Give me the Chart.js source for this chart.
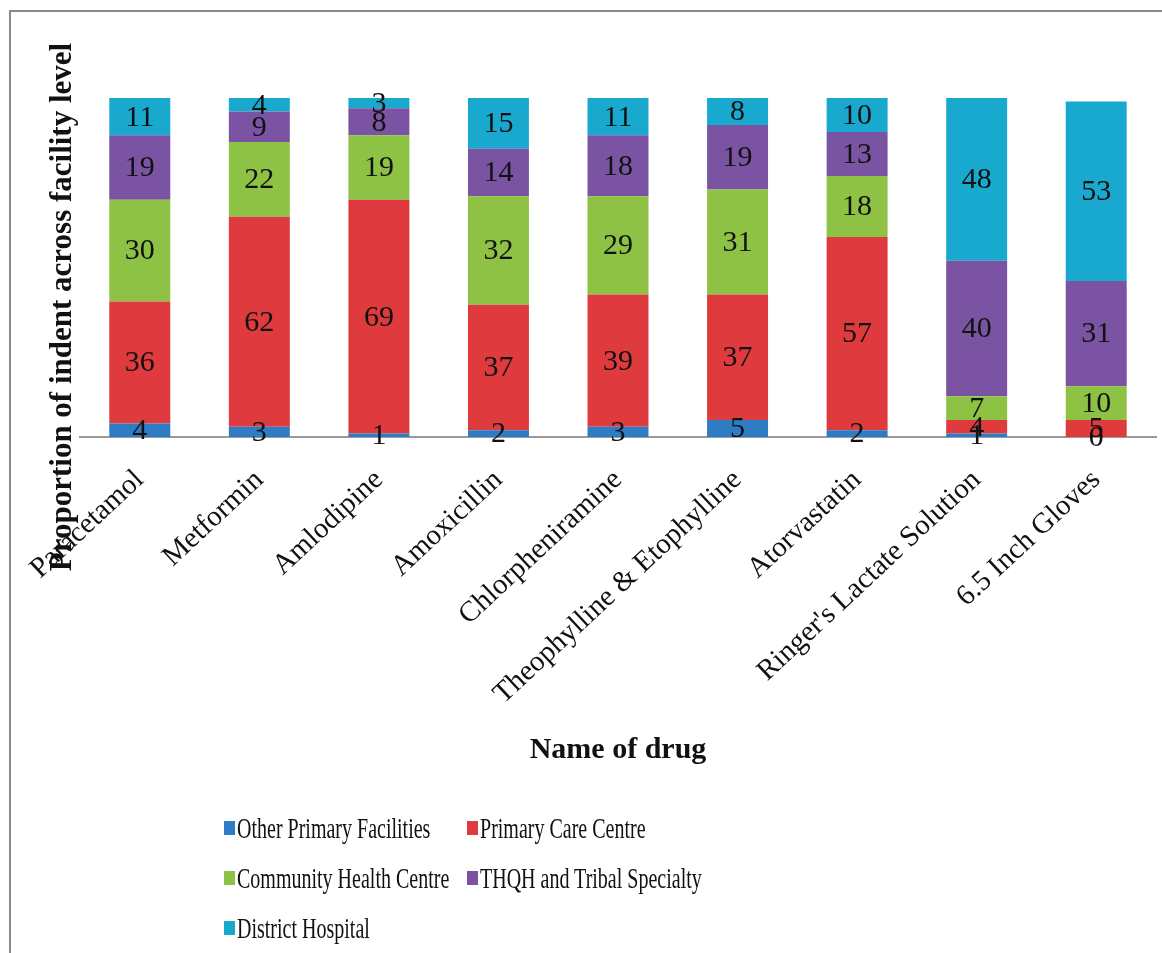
<!DOCTYPE html>
<html>
<head>
<meta charset="utf-8">
<title>Proportion of indent across facility level</title>
<script src="https://cdn.jsdelivr.net/npm/chart.js@4/dist/chart.umd.min.js"></script>
<style>
  html, body { margin: 0; padding: 0; background: #fff; }
  #wrap { position: relative; width: 1162px; height: 953px; overflow: hidden; }
  #frame { position: absolute; left: 9px; top: 10px; width: 1200px; height: 1000px;
           border-left: 2px solid #8a8a8a; border-top: 2px solid #8a8a8a; }
  #chart { position: absolute; left: 0; top: 0; }
  .lg { position: absolute; height: 34px; line-height: 34px; white-space: nowrap;
        font-family: "Liberation Serif", "Times New Roman", serif; font-size: 29px; color: #111; }
  .lg i { position: absolute; left: 0; top: 10px; width: 11px; height: 14px; }
  .lg span { position: absolute; left: 13px; top: 0; display: inline-block;
             transform: scaleX(0.69); transform-origin: left center; }
</style>
</head>
<body>
<div id="wrap">
  <div id="frame"></div>
  <canvas id="chart" width="1162" height="953"></canvas>
  <div id="legend"></div>
</div>
<script>
const drugs = ['Paracetamol', 'Metformin', 'Amlodipine', 'Amoxicillin', 'Chlorpheniramine',
  'Theophylline & Etophylline', 'Atorvastatin', "Ringer's Lactate Solution", '6.5 Inch Gloves'];

const otherPrimary     = [4, 3, 1, 2, 3, 5, 2, 1, 0];
const primaryCare      = [36, 62, 69, 37, 39, 37, 57, 4, 5];
const communityHealth  = [30, 22, 19, 32, 29, 31, 18, 7, 10];
const thqhTribal       = [19, 9, 8, 14, 18, 19, 13, 40, 31];
const districtHospital = [11, 4, 3, 15, 11, 8, 10, 48, 53];

const seriesNames = ['Other Primary Facilities', 'Primary Care Centre', 'Community Health Centre',
  'THQH and Tribal Specialty', 'District Hospital'];
const seriesColors = ['#2E7CC4', '#DF3B3E', '#8DC244', '#7A54A3', '#19A9CF'];
const seriesData = [otherPrimary, primaryCare, communityHealth, thqhTribal, districtHospital];

const SERIF = '"Liberation Serif", "Times New Roman", serif';

// numbers in the middle of every segment, plus the two axis titles
const segmentLabels = {
  id: 'segmentLabels',
  afterDatasetsDraw(chart) {
    const ctx = chart.ctx;
    ctx.save();
    ctx.font = '30px ' + SERIF;
    ctx.fillStyle = '#111';
    ctx.textAlign = 'center';
    ctx.textBaseline = 'middle';
    chart.data.datasets.forEach((ds, i) => {
      chart.getDatasetMeta(i).data.forEach((bar, j) => {
        ctx.fillText(String(ds.data[j]), bar.x, (bar.y + bar.base) / 2 + 1);
      });
    });
    ctx.restore();
  },
  afterDraw(chart) {
    const ctx = chart.ctx;
    ctx.save();
    ctx.fillStyle = '#111';
    ctx.font = 'bold 30px ' + SERIF;
    ctx.textAlign = 'center';
    ctx.textBaseline = 'middle';
    ctx.fillText('Name of drug', (chart.chartArea.left + chart.chartArea.right) / 2, 750);
    ctx.font = 'bold 31px ' + SERIF;
    ctx.translate(63, 307);
    ctx.rotate(-Math.PI / 2);
    ctx.fillText('Proportion of indent across facility level', 0, 0);
    ctx.restore();
  }
};

const chart = new Chart(document.getElementById('chart'), {
  type: 'bar',
  data: {
    labels: drugs,
    datasets: seriesData.map((d, i) => ({
      label: seriesNames[i],
      data: d,
      backgroundColor: seriesColors[i],
      borderWidth: 0,
      categoryPercentage: 1,
      barPercentage: 0.51
    }))
  },
  options: {
    responsive: false,
    animation: false,
    layout: { padding: { left: 80, right: 6, top: 98, bottom: 0 } },
    plugins: {
      legend: { display: false },
      tooltip: { enabled: false }
    },
    scales: {
      x: {
        stacked: true,
        grid: { display: false, drawTicks: false },
        border: { display: true, color: '#9a9a9a', width: 2 },
        ticks: {
          color: '#111',
          font: { family: SERIF, size: 29 },
          minRotation: 43,
          maxRotation: 43,
          padding: 26,
          autoSkip: false
        },
        afterFit(scale) { scale.height = 953 - 437; }
      },
      y: {
        stacked: true,
        display: false,
        min: 0,
        max: 100
      }
    }
  },
  plugins: [segmentLabels]
});

// legend in two columns under the axis title
const legendPos = [[224, 828], [467, 828], [224, 878], [467, 878], [224, 928]];
const legendBox = document.getElementById('legend');
chart.data.datasets.forEach((ds, i) => {
  const item = document.createElement('div');
  item.className = 'lg';
  item.style.left = legendPos[i][0] + 'px';
  item.style.top = (legendPos[i][1] - 17) + 'px';
  const mark = document.createElement('i');
  mark.style.background = ds.backgroundColor;
  const txt = document.createElement('span');
  txt.textContent = ds.label;
  item.appendChild(mark);
  item.appendChild(txt);
  legendBox.appendChild(item);
});
</script>
</body>
</html>
